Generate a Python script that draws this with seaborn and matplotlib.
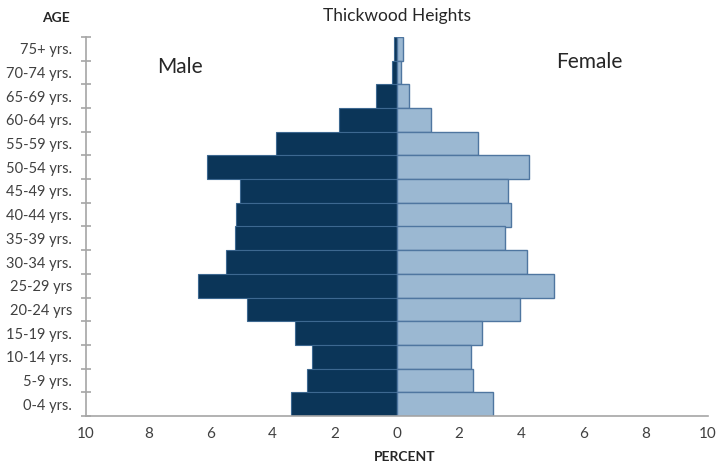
import matplotlib
matplotlib.use("Agg")
import matplotlib.pyplot as plt
from matplotlib.ticker import FixedLocator, FuncFormatter
import seaborn as sns
import pandas as pd

# Age groups, oldest first (top of the pyramid)
age_groups = ["75+ yrs.", "70-74 yrs.", "65-69 yrs.", "60-64 yrs.", "55-59 yrs.",
              "50-54 yrs.", "45-49 yrs.", "40-44 yrs.", "35-39 yrs.", "30-34 yrs.",
              "25-29 yrs", "20-24 yrs", "15-19 yrs.", "10-14 yrs.", "5-9 yrs.", "0-4 yrs."]
male_pct = [0.10, 0.15, 0.68, 1.86, 3.89, 6.10, 5.05, 5.19, 5.20, 5.50,
            6.40, 4.83, 3.28, 2.74, 2.90, 3.41]
female_pct = [0.18, 0.13, 0.37, 1.10, 2.62, 4.24, 3.57, 3.66, 3.47, 4.19,
              5.05, 3.95, 2.73, 2.39, 2.45, 3.10]
x_ticks = [-10, -8, -6, -4, -2, 0, 2, 4, 6, 8, 10]

df = pd.DataFrame({"age": age_groups,
                   "male": [-v for v in male_pct],
                   "female": female_pct})

sns.set_theme(style="white")
plt.rcParams["font.family"] = ["Lato", "DejaVu Sans"]

fig = plt.figure(figsize=(7.17, 4.69), dpi=100)
ax = fig.add_axes([86 / 717, 1 - 416 / 469, (708 - 86) / 717, (416 - 37) / 469])

male_color = "#0B3558"
female_color = "#9BB8D2"

sns.barplot(data=df, y="age", x="male", order=age_groups, orient="h",
            color=male_color, saturation=1, width=1.0,
            edgecolor="#3D6890", linewidth=0.8, ax=ax)
sns.barplot(data=df, y="age", x="female", order=age_groups, orient="h",
            color=female_color, saturation=1, width=1.0,
            edgecolor="#4F76A0", linewidth=1.0, ax=ax)

n = len(age_groups)
ax.set_xlim(-10, 10)
ax.set_ylim(n - 0.5, -0.5)

axis_gray = "#A6A6A6"
for side in ("top", "right"):
    ax.spines[side].set_visible(False)
for side in ("left", "bottom"):
    ax.spines[side].set_color(axis_gray)
    ax.spines[side].set_linewidth(1.2)

# x axis: absolute percentages on both sides
ax.set_xticks(x_ticks)
ax.xaxis.set_major_formatter(FuncFormatter(lambda v, p: f"{abs(int(v))}"))
ax.tick_params(axis="x", direction="in", length=6, width=1.2, color=axis_gray,
               labelsize=11, labelcolor="#404040", pad=8)

# y axis: labels centred on bands, tick marks on band boundaries
ax.tick_params(axis="y", which="major", length=0, labelsize=10.5,
               labelcolor="#404040", pad=10)
ax.yaxis.set_minor_locator(FixedLocator([i - 0.5 for i in range(n + 1)]))
ax.tick_params(axis="y", which="minor", direction="inout", length=7, width=1.2,
               color=axis_gray, left=True)

ax.set_xlabel("")
ax.set_ylabel("")
ax.grid(False)

fig.text(397 / 717, 1 - 16 / 469, "Thickwood Heights", ha="center", va="center",
         fontsize=12.5, color="#262626")
fig.text(70 / 717, 1 - 18 / 469, "AGE", ha="right", va="center",
         fontsize=10, fontweight="bold", color="#262626")
fig.text(405 / 717, 1 - 457 / 469, "PERCENT", ha="center", va="center",
         fontsize=10, fontweight="bold", color="#262626")
fig.text(180 / 717, 1 - 67 / 469, "Male", ha="center", va="center",
         fontsize=15, color="#262626")
fig.text(589 / 717, 1 - 62 / 469, "Female", ha="center", va="center",
         fontsize=15, color="#262626")

fig.savefig("out.png", dpi=100)
